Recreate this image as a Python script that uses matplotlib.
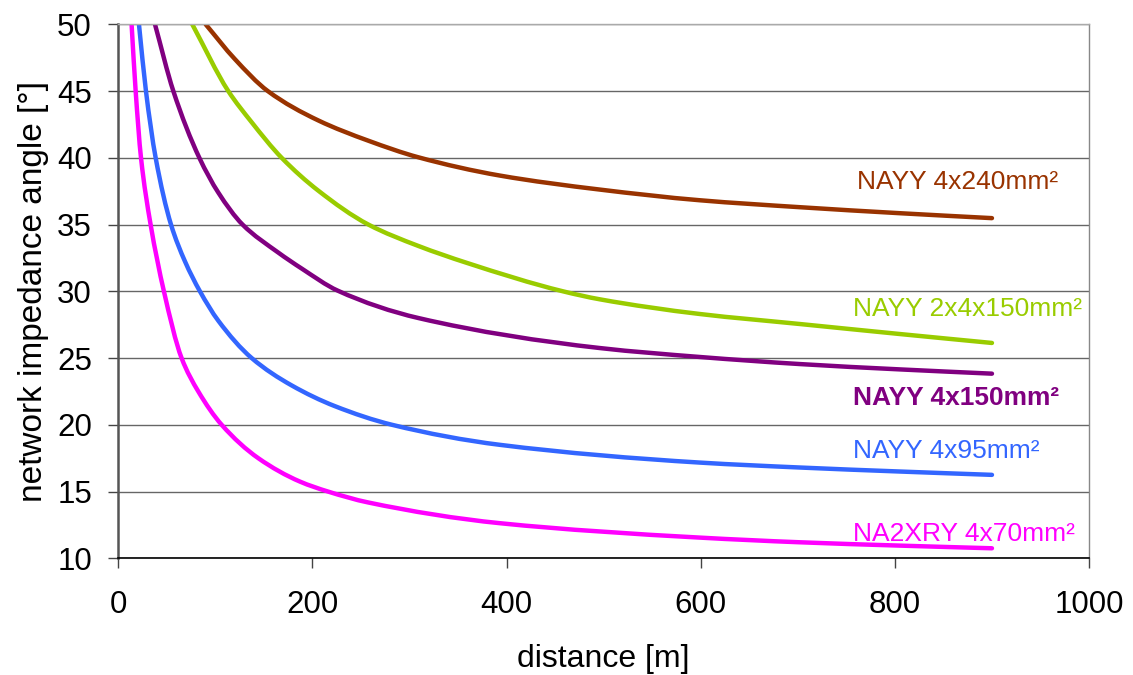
import matplotlib
matplotlib.use("Agg")
import matplotlib.pyplot as plt
from matplotlib.path import Path
from matplotlib.patches import PathPatch
import numpy as np

plt.rcParams['font.family'] = ['Liberation Sans', 'DejaVu Sans']

# distance [m] / angle [deg]
d_240 = [90, 120, 154, 206, 257.6, 309, 393, 496, 599, 702, 805, 900]
a_240 = [50, 47.4, 45, 42.8, 41.28, 40.04, 38.67, 37.62, 36.82, 36.3, 35.85, 35.48]

d_2x150 = [76.2, 113.3, 137, 168.3, 206, 257.6, 309, 359, 458, 496, 599, 702, 805, 900]
a_2x150 = [50, 45, 42.7, 40, 37.54, 35, 33.4, 32.13, 30, 29.4, 28.3, 27.55, 26.8, 26.13]

d_150 = [37.8, 56.7, 83.5, 103, 128, 164.8, 189, 226, 309, 496, 599, 702, 805, 900]
a_150 = [50, 45, 40, 37.4, 35, 32.9, 31.7, 30.05, 28.0, 25.75, 25.08, 24.55, 24.15, 23.83]

d_95 = [21.3, 28.5, 38.5, 54.3, 68.7, 84.1, 103, 137.4, 178.6, 223, 282, 393, 599, 702, 805, 900]
a_95 = [50, 45, 40, 35, 32.24, 30, 27.8, 25, 22.95, 21.4, 20, 18.5, 17.17, 16.8, 16.5, 16.25]

d_70 = [13.7, 17.9, 23.4, 33.3, 47, 65.2, 82.4, 106.5, 144.2, 187, 216, 257.6, 393, 599, 702, 805, 900]
a_70 = [50, 45, 40, 35, 30, 25, 22.5, 20, 17.5, 15.75, 15, 14.18, 12.63, 11.55, 11.2, 10.95, 10.75]

names = ['NAYY 4x240mm²', 'NAYY 2x4x150mm²', 'NAYY 4x150mm²', 'NAYY 4x95mm²', 'NA2XRY 4x70mm²']
colors = ['#993300', '#99CC00', '#800080', '#3366FF', '#FF00FF']
curves = [(d_240, a_240), (d_2x150, a_2x150), (d_150, a_150), (d_95, a_95), (d_70, a_70)]

# label anchors (left edge, baseline)
lab_x = [760.7, 757.2, 757.2, 757.2, 757.2]
lab_y = [37.68, 28.13, 21.5, 17.5, 11.32]
lab_bold = [False, False, True, False, False]


def smooth_path(x, y):
    # smoothed line through the read points, monotone bezier segments
    x = np.asarray(x, float)
    y = np.asarray(y, float)
    h = np.diff(x)
    s = np.diff(y) / h
    m = np.empty_like(y)
    m[0], m[-1] = s[0], s[-1]
    for i in range(1, len(x) - 1):
        if s[i - 1] * s[i] <= 0:
            m[i] = 0
        else:
            w1 = 2 * h[i] + h[i - 1]
            w2 = h[i] + 2 * h[i - 1]
            m[i] = (w1 + w2) / (w1 / s[i - 1] + w2 / s[i])
    verts = [(x[0], y[0])]
    codes = [Path.MOVETO]
    for i in range(len(x) - 1):
        verts += [(x[i] + h[i] / 3, y[i] + m[i] * h[i] / 3),
                  (x[i + 1] - h[i] / 3, y[i + 1] - m[i + 1] * h[i] / 3),
                  (x[i + 1], y[i + 1])]
        codes += [Path.CURVE4] * 3
    return Path(verts, codes)


fig = plt.figure(figsize=(11.33, 6.75), dpi=100)
ax = fig.add_axes([0.1044, 0.1729, 0.8568, 0.7911])

for (d, a), c in zip(curves, colors):
    patch = PathPatch(smooth_path(d, a), fill=False, edgecolor=c, lw=3.2,
                      capstyle='round', joinstyle='round')
    ax.add_patch(patch)

for name, c, x, y, b in zip(names, colors, lab_x, lab_y, lab_bold):
    ax.text(x, y, name, color=c, fontsize=19, va='baseline', ha='left',
            fontweight='bold' if b else 'normal')

ax.set_xlim(0, 1000)
ax.set_ylim(10, 50)
ax.set_xticks(range(0, 1001, 200))
ax.set_yticks(range(10, 51, 5))
ax.yaxis.grid(True, color='#666666', lw=1.0)
ax.set_axisbelow(True)

ax.spines['left'].set_color('#555555')
ax.spines['left'].set_linewidth(1.8)
ax.spines['bottom'].set_color('black')
ax.spines['bottom'].set_linewidth(1.2)
ax.spines['right'].set_color('#888888')
ax.spines['right'].set_linewidth(1.0)
ax.spines['top'].set_color('#aaaaaa')
ax.spines['top'].set_linewidth(1.0)

ax.tick_params(axis='both', direction='out', length=7, width=1, labelsize=22.5, color='#444444')
ax.tick_params(axis='y', pad=12)
ax.tick_params(axis='x', pad=16)

ax.set_xlabel('distance [m]', fontsize=23, labelpad=17)
ax.set_ylabel('network impedance angle [°]', fontsize=24, labelpad=6)

fig.savefig('out.png', dpi=100)
